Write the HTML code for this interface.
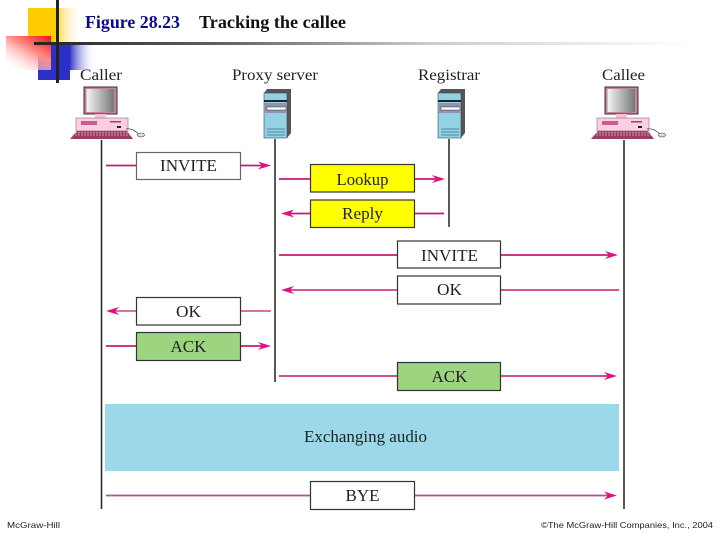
<!DOCTYPE html>
<html><head><meta charset="utf-8">
<style>
html,body{margin:0;padding:0;background:#fff;width:720px;height:540px;overflow:hidden}
svg{display:block}
text{font-family:"Liberation Serif",serif}
.l{font-size:17px;fill:#222;text-anchor:middle}
.h{font-size:16px;fill:#222}
.f{font-family:"Liberation Sans",sans-serif;font-size:8.5px;fill:#222}
</style></head><body>
<svg width="720" height="540" viewBox="0 0 720 540" xmlns="http://www.w3.org/2000/svg">
<defs>
<linearGradient id="yg2" x1="0" x2="1" y1="0" y2="0"><stop offset="0" stop-color="#ffd23a"/><stop offset="1" stop-color="#fff" stop-opacity="0"/></linearGradient>
<linearGradient id="rg" x1="1" x2="0.2" y1="0" y2="1"><stop offset="0" stop-color="#ee1010"/><stop offset="0.45" stop-color="#ff8a84"/><stop offset="1" stop-color="#fff" stop-opacity="0.3"/></linearGradient>
<linearGradient id="bg" x1="0" x2="1" y1="0" y2="0"><stop offset="0.3" stop-color="#2c2fc8"/><stop offset="1" stop-color="#fff" stop-opacity="0"/></linearGradient>
<linearGradient id="ln" x1="0" x2="1" y1="0" y2="0"><stop offset="0" stop-color="#222"/><stop offset="0.3" stop-color="#666"/><stop offset="0.6" stop-color="#ccc"/><stop offset="1" stop-color="#fff"/></linearGradient>
<linearGradient id="sc" x1="0" x2="1" y1="0" y2="0"><stop offset="0" stop-color="#f4f4f4"/><stop offset="1" stop-color="#777"/></linearGradient>
<g id="pc">
<rect x="14" y="7" width="33" height="27" fill="#c9809b" stroke="#333" stroke-width="1"/>
<rect x="16.500" y="9" width="27.500" height="23" fill="url(#sc)"/>
<rect x="25" y="34" width="11" height="4" fill="#f5c3d8"/>
<rect x="6" y="38" width="52" height="13" fill="#fbcfe3" stroke="#a06080" stroke-width=".6"/>
<rect x="11" y="41" width="16" height="4" fill="#cc5c8c"/>
<rect x="40" y="41" width="11" height="1.500" fill="#a04070"/>
<rect x="47" y="46" width="4" height="2" fill="#222"/>
<polygon points="0,59 7,51 57,51 63,59" fill="#9c3c62"/>
<path d="M2 55H60M5 52.800H58" stroke="#e9a7c3" stroke-width=".8" stroke-dasharray="2 1"/>
<path d="M56 49c6-1 9 2 13 5" stroke="#333" fill="none" stroke-width=".7"/>
<ellipse cx="71" cy="55" rx="3.500" ry="2" fill="#ddd" stroke="#444" stroke-width=".6"/>
</g>
<g id="srv">
<polygon points="0,4 3,0 27,0 27,44 23,49 23,4" fill="#555"/>
<rect x="0" y="4" width="23" height="45" fill="#93d2e4" stroke="#445" stroke-width=".6"/>
<rect x="0" y="11" width="23" height="2" fill="#222"/>
<rect x="0" y="14" width="23" height="10" fill="#8f93b0"/>
<rect x="3" y="18" width="19" height="3" fill="#fff" stroke="#333" stroke-width=".5"/>
<path d="M3 40H21M3 43H21M3 46H21" stroke="#3b6c88" stroke-width=".8"/>
</g>
<g id="ar"><polygon points="0,0 -13,-4 -9,0 -13,4" fill="#e0107e"/></g>
</defs>

<!-- template decoration -->
<rect x="28" y="8" width="28" height="36" fill="#ffcc00"/>
<rect x="56" y="8" width="26" height="36" fill="url(#yg2)"/>
<rect x="38" y="44" width="32" height="36" fill="#2c2fc8"/>
<rect x="58" y="45" width="38" height="25" fill="url(#bg)"/>
<rect x="6" y="36" width="45" height="34" fill="url(#rg)"/>
<rect x="34" y="42" width="660" height="3" fill="url(#ln)"/>
<rect x="56" y="0" width="3" height="83" fill="#222"/>

<text x="85" y="28" font-size="18" font-weight="700" fill="#0a0a8c" textLength="95" lengthAdjust="spacingAndGlyphs">Figure 28.23</text>
<text x="199" y="28" font-size="18" font-weight="700" fill="#111" textLength="147" lengthAdjust="spacingAndGlyphs">Tracking the callee</text>

<text class="h" x="80" y="80" textLength="42" lengthAdjust="spacingAndGlyphs">Caller</text>
<text class="h" x="232" y="80" textLength="86" lengthAdjust="spacingAndGlyphs">Proxy server</text>
<text class="h" x="418" y="80" textLength="62" lengthAdjust="spacingAndGlyphs">Registrar</text>
<text class="h" x="602" y="80" textLength="43" lengthAdjust="spacingAndGlyphs">Callee</text>

<use href="#pc" x="70" y="80"/>
<use href="#pc" x="591" y="80"/>
<use href="#srv" x="264" y="89"/>
<use href="#srv" x="438" y="89"/>

<!-- lifelines -->
<g stroke="#222" stroke-width="1.500">
<line x1="101.500" y1="140" x2="101.500" y2="509"/>
<line x1="275" y1="139" x2="275" y2="382"/>
<line x1="449" y1="139" x2="449" y2="227"/>
<line x1="624" y1="140" x2="624" y2="509"/>
</g>

<!-- connectors -->
<g stroke="#c81a78" stroke-width="1.800" fill="none">
<path d="M106 165.500H136M240 165.500H265"/>
<path d="M279 179H310M414 179H438"/>
<path d="M288 213.500H310M414 213.500H444"/>
<path d="M279 255H398M500 255H612"/>
<path d="M288 290H398M500 290H619" stroke-width="1.400"/>
<path d="M114 311H136M240 311H271" stroke-width="1.200"/>
<path d="M106 346H136M240 346H265"/>
<path d="M279 376H398M500 376H611" stroke="#c03c88"/>
<path d="M106 495.500H310M414 495.500H610" stroke="#b8508f"/>
</g>
<use href="#ar" x="271" y="165.500"/>
<use href="#ar" x="445" y="179"/>
<use href="#ar" transform="translate(281 213.500) scale(-1 1)"/>
<use href="#ar" x="618" y="255"/>
<use href="#ar" transform="translate(281 290) scale(-1 1)"/>
<use href="#ar" transform="translate(106 311) scale(-1 1)"/>
<use href="#ar" x="271" y="346"/>
<use href="#ar" x="617" y="376"/>
<use href="#ar" x="617" y="495.500"/>

<!-- boxes -->
<g stroke="#333" stroke-width="1.200">
<rect x="136.500" y="152.500" width="104" height="27" fill="#fff" stroke="#666"/>
<rect x="310.500" y="164.500" width="104" height="27.500" fill="#ffff00"/>
<rect x="310.500" y="200" width="104" height="27.500" fill="#ffff00"/>
<rect x="397.500" y="241" width="103" height="27" fill="#fff"/>
<rect x="397.500" y="276" width="103" height="28" fill="#fff"/>
<rect x="136.500" y="297.500" width="104" height="27.500" fill="#fff"/>
<rect x="136.500" y="332.500" width="104" height="28" fill="#9dd47f"/>
<rect x="397.500" y="362.500" width="103" height="28" fill="#9dd47f"/>
<rect x="310.500" y="481.500" width="104" height="28" fill="#fff"/>
</g>
<rect x="105" y="404" width="514" height="67" fill="#9bd9ea"/>

<text class="l" x="188.500" y="171" textLength="57" lengthAdjust="spacingAndGlyphs">INVITE</text>
<text class="l" x="362.500" y="185" textLength="52" lengthAdjust="spacingAndGlyphs">Lookup</text>
<text class="l" x="362.500" y="219" textLength="41" lengthAdjust="spacingAndGlyphs">Reply</text>
<text class="l" x="449.500" y="261" textLength="57" lengthAdjust="spacingAndGlyphs">INVITE</text>
<text class="l" x="449.500" y="295" textLength="25" lengthAdjust="spacingAndGlyphs">OK</text>
<text class="l" x="188.500" y="317" textLength="25" lengthAdjust="spacingAndGlyphs">OK</text>
<text class="l" x="188.500" y="352" textLength="36" lengthAdjust="spacingAndGlyphs">ACK</text>
<text class="l" x="449.500" y="382" textLength="36" lengthAdjust="spacingAndGlyphs">ACK</text>
<text class="l" x="365.500" y="442" textLength="123" lengthAdjust="spacingAndGlyphs">Exchanging audio</text>
<text class="l" x="362.500" y="501" textLength="34" lengthAdjust="spacingAndGlyphs">BYE</text>

<text class="f" x="7" y="528" textLength="53" lengthAdjust="spacingAndGlyphs">McGraw-Hill</text>
<text class="f" x="541" y="528" textLength="172" lengthAdjust="spacingAndGlyphs">©The McGraw-Hill Companies, Inc., 2004</text>
</svg>
</body></html>
